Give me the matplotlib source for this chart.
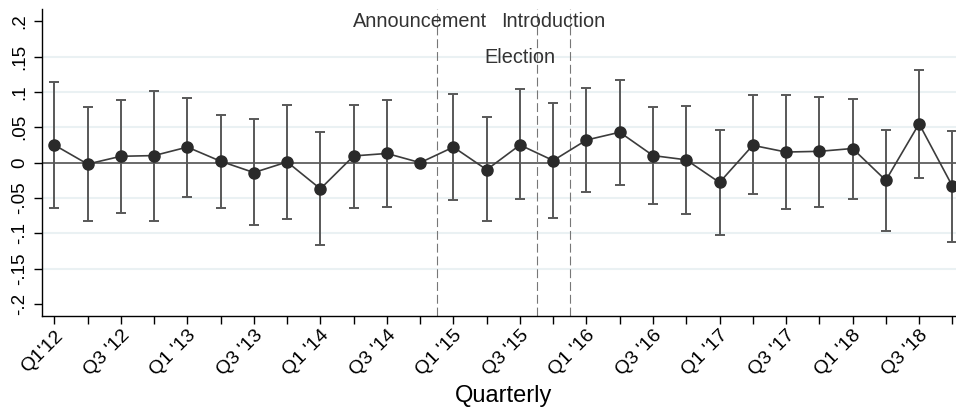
import matplotlib
matplotlib.use("Agg")
import matplotlib.pyplot as plt
import numpy as np

plt.rcParams['font.family'] = ['Liberation Sans', 'DejaVu Sans']

quarters = ["Q1'12", "Q2 '12", "Q3 '12", "Q4 '12", "Q1 '13", "Q2 '13", "Q3 '13", "Q4 '13",
            "Q1 '14", "Q2 '14", "Q3 '14", "Q4 '14", "Q1 '15", "Q2 '15", "Q3 '15", "Q4 '15",
            "Q1 '16", "Q2 '16", "Q3 '16", "Q4 '16", "Q1 '17", "Q2 '17", "Q3 '17", "Q4 '17",
            "Q1 '18", "Q2 '18", "Q3 '18", "Q4 '18"]
estimate = [0.025, -0.002, 0.009, 0.010, 0.022, 0.002, -0.014, 0.001,
            -0.037, 0.0095, 0.013, 0.000, 0.022, -0.010, 0.025, 0.003,
            0.032, 0.043, 0.010, 0.004, -0.028, 0.0245, 0.015, 0.016,
            0.020, -0.025, 0.055, -0.033]
upper = [0.114, 0.078, 0.089, 0.101, 0.092, 0.068, 0.061, 0.082,
         0.043, 0.082, 0.089, np.nan, 0.097, 0.064, 0.104, 0.084,
         0.106, 0.117, 0.079, 0.080, 0.046, 0.095, 0.095, 0.093,
         0.090, 0.046, 0.131, 0.045]
lower = [-0.064, -0.082, -0.071, -0.082, -0.049, -0.064, -0.088, -0.080,
         -0.116, -0.064, -0.063, np.nan, -0.053, -0.082, -0.052, -0.078,
         -0.041, -0.031, -0.058, -0.072, -0.102, -0.045, -0.066, -0.062,
         -0.051, -0.096, -0.022, -0.112]
event_pos = [11.5, 14.5, 15.5]
event_labels = ["Announcement", "Election", "Introduction"]
event_label_xy = [(11.0, 0.199), (14.0, 0.149), (15.0, 0.199)]
yticks = [0.2, 0.15, 0.1, 0.05, 0, -0.05, -0.1, -0.15, -0.2]
ytick_labels = [".2", ".15", ".1", ".05", "0", "-.05", "-.1", "-.15", "-.2"]

fig = plt.figure(figsize=(9.56, 4.07), dpi=100)
ax = fig.add_axes([0.0436, 0.2236, 0.9564, 0.7535])

x = np.arange(len(quarters))
est = np.array(estimate)
up = np.array(upper)
lo = np.array(lower)

# grid lines at interior ticks
for yv in [0.15, 0.1, 0.05, -0.05, -0.1, -0.15]:
    ax.axhline(yv, color='#eaf1f3', lw=1.5, zorder=0)
ax.axhline(0, color='#6a6a6a', lw=1.4, zorder=1)

for p in event_pos:
    ax.axvline(p, color='#777777', lw=0.8, linestyle=(0, (8, 3.5)), zorder=1)

mask = ~np.isnan(up)
ax.errorbar(x[mask], est[mask], yerr=[est[mask] - lo[mask], up[mask] - est[mask]],
            fmt='none', ecolor='#585858', elinewidth=1.4, capsize=3.3, capthick=1.4, zorder=2)
ax.plot(x, est, color='#3c3c3c', lw=1.2, marker='o', markersize=8,
        markerfacecolor='#2a2a2a', markeredgecolor='#2a2a2a', zorder=3)

for lab, (tx, ty) in zip(event_labels, event_label_xy):
    ax.text(tx, ty, lab, ha='center', va='center', fontsize=14.3, color='#333333', zorder=4)

ax.set_xlim(-0.38, 27.11)
ax.set_ylim(-0.2167, 0.2167)
ax.set_yticks(yticks)
ax.set_yticklabels(ytick_labels, rotation=90, va='center', fontsize=13.5)
ax.set_xticks(x)
ax.set_xticklabels([q if i % 2 == 0 else "" for i, q in enumerate(quarters)],
                   rotation=45, ha='right', rotation_mode='anchor', fontsize=14)
ax.tick_params(axis='both', length=6, width=1, color='black')
ax.tick_params(axis='x', pad=2)
ax.tick_params(axis='y', pad=4)
fig.text(0.5267, 0.028, "Quarterly", ha='center', va='center', fontsize=17)

for s in ['top', 'right']:
    ax.spines[s].set_visible(False)
for s in ['left', 'bottom']:
    ax.spines[s].set_linewidth(1.0)
    ax.spines[s].set_color('black')

fig.savefig("out.png", dpi=100)
